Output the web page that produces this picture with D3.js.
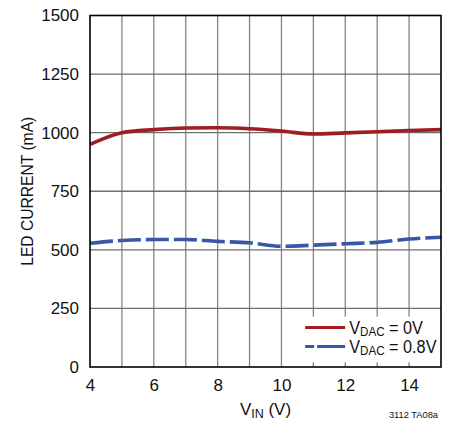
<!DOCTYPE html>
<html>
<head>
<meta charset="utf-8">
<script src="https://cdn.jsdelivr.net/npm/d3@7"></script>
<style>
  body { margin: 0; background: #fff; }
  svg text { font-family: "Liberation Sans", Arial, sans-serif; fill: #111; }
</style>
</head>
<body>
<div id="chart"></div>
<script>
// values
const vin = [4, 5, 6, 7, 8, 9, 10, 11, 12, 13, 14, 15];
const ledVdac0 = [950, 1000, 1013, 1020, 1021, 1017, 1007, 994, 999, 1004, 1009, 1013];
const ledVdac08 = [528, 540, 544, 544, 536, 530, 515, 520, 526, 532, 546, 554];
const xTicks = [4, 6, 8, 10, 12, 14];
const yTicks = [0, 250, 500, 750, 1000, 1250, 1500];
const xGrid = [5, 6, 7, 8, 9, 10, 11, 12, 13, 14];
const yGrid = [250, 500, 750, 1000, 1250];

const width = 451;
const height = 424;
const margin = {top: 15.5, right: 10, bottom: 57, left: 90};
const innerWidth = width - margin.left - margin.right;
const innerHeight = height - margin.top - margin.bottom;

const svg = d3.select(`#chart`)
  .append(`svg`)
    .attr(`width`, width)
    .attr(`height`, height);

const g = svg.append(`g`)
  .attr(`transform`, `translate(${margin.left},${margin.top})`);

const x = d3.scaleLinear().domain([4, 15]).range([0, innerWidth]);
const y = d3.scaleLinear().domain([0, 1500]).range([innerHeight, 0]);

// grid lines
g.append(`g`)
  .selectAll(`line`)
  .data(xGrid)
  .enter().append(`line`)
    .attr(`x1`, d => x(d)).attr(`x2`, d => x(d))
    .attr(`y1`, 0).attr(`y2`, innerHeight)
    .attr(`stroke`, `#858585`)
    .attr(`stroke-width`, 1.3);

g.append(`g`)
  .selectAll(`line`)
  .data(yGrid)
  .enter().append(`line`)
    .attr(`x1`, 0).attr(`x2`, innerWidth)
    .attr(`y1`, d => y(d)).attr(`y2`, d => y(d))
    .attr(`stroke`, `#6f6f6f`)
    .attr(`stroke-width`, 1.3);

// data lines
const line = d3.line()
  .x(d => x(d[0]))
  .y(d => y(d[1]))
  .curve(d3.curveMonotoneX);

g.append(`path`)
  .datum(d3.zip(vin, ledVdac08))
  .attr(`d`, line)
  .attr(`fill`, `none`)
  .attr(`stroke`, `#3857a6`)
  .attr(`stroke-width`, 3.6)
  .attr(`stroke-dasharray`, `23,5`);

g.append(`path`)
  .datum(d3.zip(vin, ledVdac0))
  .attr(`d`, line)
  .attr(`fill`, `none`)
  .attr(`stroke`, `#a01c24`)
  .attr(`stroke-width`, 3.6);

// legend box
const legendX = 10.68;
const legend = g.append(`g`)
  .attr(`transform`, `translate(${x(legendX)},${y(215)})`);

legend.append(`rect`)
  .attr(`x`, 0).attr(`y`, 0)
  .attr(`width`, innerWidth - x(legendX))
  .attr(`height`, y(20) - y(215))
  .attr(`fill`, `#fff`);

const legendItems = [
  {label: `0V`, color: `#a01c24`, dash: null},
  {label: `0.8V`, color: `#3857a6`, dash: `9,3,28`},
];

legendItems.forEach((item, i) => {
  const row = legend.append(`g`)
    .attr(`transform`, `translate(0,${11 + i * 19})`);
  row.append(`line`)
    .attr(`x1`, 2).attr(`x2`, 42)
    .attr(`y1`, 0).attr(`y2`, 0)
    .attr(`stroke`, item.color)
    .attr(`stroke-width`, 3)
    .attr(`stroke-dasharray`, item.dash);
  // narrow the label a little, like the condensed face of the original
  const t = row.append(`text`)
    .attr(`transform`, `translate(46,6) scale(0.93,1)`)
    .style(`font-size`, `17.5px`);
  t.append(`tspan`).text(`V`);
  t.append(`tspan`).attr(`dy`, 2.5).style(`font-size`, `12.5px`).text(`DAC`);
  t.append(`tspan`).attr(`dy`, -2.5).text(` = ${item.label}`);
});

// plot frame
g.append(`rect`)
  .attr(`width`, innerWidth)
  .attr(`height`, innerHeight)
  .attr(`fill`, `none`)
  .attr(`stroke`, `#000`)
  .attr(`stroke-width`, 1.6);

// axes labels
g.append(`g`)
  .attr(`transform`, `translate(0,${innerHeight})`)
  .call(d3.axisBottom(x).tickValues(xTicks).tickFormat(d3.format(`d`)).tickSize(0).tickPadding(12))
  .call(s => s.select(`.domain`).remove())
  .selectAll(`text`)
    .style(`font-size`, `17px`);

g.append(`g`)
  .call(d3.axisLeft(y).tickValues(yTicks).tickFormat(d3.format(`d`)).tickSize(0).tickPadding(11))
  .call(s => s.select(`.domain`).remove())
  .selectAll(`text`)
    .style(`font-size`, `17px`);

svg.selectAll(`.tick text`).attr(`fill`, `#111`);

// axis titles
const xTitle = svg.append(`text`)
  .attr(`text-anchor`, `middle`)
  .attr(`transform`, `translate(${margin.left + innerWidth / 2},${height - 9})`)
  .style(`font-size`, `17px`);
xTitle.append(`tspan`).text(`V`);
xTitle.append(`tspan`).attr(`dy`, 3).style(`font-size`, `12.5px`).text(`IN`);
xTitle.append(`tspan`).attr(`dy`, -3).text(` (V)`);

svg.append(`text`)
  .attr(`text-anchor`, `middle`)
  .attr(`transform`, `translate(33,${margin.top + innerHeight / 2}) rotate(-90)`)
  .attr(`textLength`, 149)
  .attr(`lengthAdjust`, `spacingAndGlyphs`)
  .style(`font-size`, `17px`)
  .text(`LED CURRENT (mA)`);

svg.append(`text`)
  .attr(`text-anchor`, `end`)
  .attr(`x`, 438)
  .attr(`y`, 418)
  .style(`font-size`, `9.3px`)
  .text(`3112 TA08a`);
</script>
</body>
</html>
